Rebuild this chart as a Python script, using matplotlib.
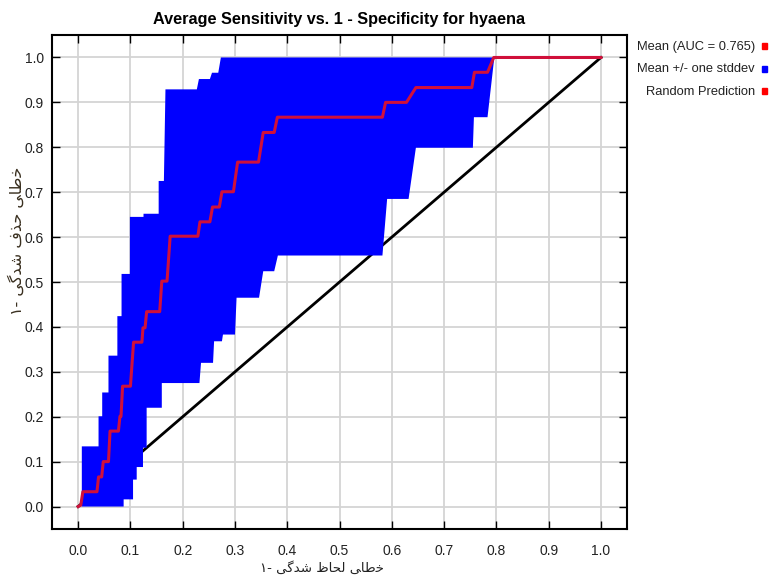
import matplotlib
matplotlib.use("Agg")
import matplotlib.pyplot as plt
from matplotlib.patches import Rectangle

# mean ROC curve (1 - specificity, sensitivity)
mean_fpr = [0.000, 0.005, 0.009, 0.036, 0.039, 0.045, 0.048, 0.058, 0.061, 0.077,
            0.080, 0.082, 0.085, 0.100, 0.106, 0.122, 0.124, 0.128, 0.131, 0.156,
            0.160, 0.170, 0.176, 0.229, 0.233, 0.252, 0.257, 0.270, 0.275, 0.297,
            0.305, 0.345, 0.354, 0.375, 0.381, 0.582, 0.588, 0.628, 0.646, 0.753,
            0.758, 0.783, 0.795, 1.000]
mean_tpr = [0.000, 0.003, 0.033, 0.033, 0.066, 0.066, 0.100, 0.100, 0.168, 0.168,
            0.201, 0.201, 0.268, 0.268, 0.366, 0.366, 0.398, 0.398, 0.434, 0.434,
            0.502, 0.502, 0.602, 0.602, 0.634, 0.634, 0.667, 0.667, 0.701, 0.701,
            0.767, 0.767, 0.833, 0.833, 0.867, 0.867, 0.900, 0.900, 0.933, 0.933,
            0.967, 0.967, 1.000, 1.000]

# mean + one stddev (upper edge of band)
up_fpr = [0.007, 0.007, 0.039, 0.039, 0.046, 0.046, 0.058, 0.058, 0.075, 0.075,
          0.083, 0.083, 0.099, 0.099, 0.125, 0.125, 0.154, 0.154, 0.164, 0.167,
          0.227, 0.231, 0.252, 0.256, 0.268, 0.273, 1.000]
up_tpr = [0.000, 0.134, 0.134, 0.201, 0.201, 0.254, 0.254, 0.336, 0.336, 0.424,
          0.424, 0.518, 0.518, 0.645, 0.645, 0.652, 0.652, 0.725, 0.725, 0.929,
          0.929, 0.952, 0.952, 0.966, 0.966, 1.000, 1.000]

# mean - one stddev (lower edge of band)
lo_fpr = [0.000, 0.087, 0.087, 0.105, 0.105, 0.112, 0.112, 0.124, 0.124, 0.131,
          0.131, 0.160, 0.160, 0.232, 0.235, 0.258, 0.260, 0.275, 0.277, 0.300,
          0.303, 0.346, 0.354, 0.375, 0.382, 0.582, 0.591, 0.632, 0.646, 0.755,
          0.757, 0.783, 0.796, 1.000]
lo_tpr = [0.000, 0.000, 0.016, 0.016, 0.060, 0.060, 0.088, 0.088, 0.131, 0.131,
          0.220, 0.220, 0.275, 0.275, 0.320, 0.320, 0.368, 0.368, 0.383, 0.383,
          0.465, 0.465, 0.524, 0.524, 0.559, 0.559, 0.685, 0.685, 0.799, 0.799,
          0.867, 0.867, 1.000, 1.000]

ticks = [0.0, 0.1, 0.2, 0.3, 0.4, 0.5, 0.6, 0.7, 0.8, 0.9, 1.0]
legend_labels = ["Mean (AUC = 0.765)", "Mean +/- one stddev", "Random Prediction"]
legend_colors = ["#ff0000", "#0000ff", "#ff0000"]

# persian labels written in visual order with presentation forms (no shaping engine here)
XLABEL = "\u06f1- \ufef0\ufb94\ufeaa\ufeb7 \ufec5\ufe8e\ufea4\ufedf \ufef0\ufe8e\ufec3\ufea7"
YLABEL = "\u06f1- \ufef0\ufb94\ufeaa\ufeb7 \ufed1\ufeac\ufea3 \ufef0\ufe8e\ufec3\ufea7"

plt.rcParams["font.family"] = ["Liberation Sans", "DejaVu Sans"]

fig = plt.figure(figsize=(7.74, 5.76), dpi=100)
ax = fig.add_axes([0.0672, 0.0816, 0.743, 0.8576])

ax.plot([0, 1], [0, 1], color="black", lw=2, zorder=2)
ax.fill(up_fpr + lo_fpr[::-1], up_tpr + lo_tpr[::-1], color="#0000ff", lw=0, zorder=3)
ax.plot(mean_fpr, mean_tpr, color="#d0103a", lw=2.2, zorder=4)

ax.set_xlim(-0.05, 1.05)
ax.set_ylim(-0.05, 1.05)
ax.set_xticks(ticks)
ax.set_yticks(ticks)
ax.set_xticklabels([f"{t:.1f}" for t in ticks])
ax.set_yticklabels([f"{t:.1f}" for t in ticks])
ax.grid(True, color="#d4d4d4", lw=1.3, zorder=0)
ax.set_axisbelow(True)
ax.tick_params(direction="in", length=6, width=1, top=True, right=True,
               labelsize=10, colors="black", labelcolor="#222222")
ax.tick_params(axis="x", pad=11)
ax.tick_params(axis="y", pad=6)
for sp in ax.spines.values():
    sp.set_linewidth(1.5)

ax.set_title("Average Sensitivity vs. 1 - Specificity for hyaena",
             fontsize=11.7, fontweight="bold", pad=8)

ax.set_xlabel(XLABEL, family=["DejaVu Sans"], fontsize=9.6, color="#222222")
ax.xaxis.set_label_coords(0.47, -0.065)
ax.set_ylabel(YLABEL, family=["DejaVu Sans"], fontsize=11.5, color="#3a3020")
ax.yaxis.set_label_coords(-0.048, 0.583)

for i, (lab, col) in enumerate(zip(legend_labels, legend_colors)):
    y = 1 - (47 + 22.5 * i) / 576
    fig.text(755 / 774, y, lab, ha="right", va="center", fontsize=9.3, color="#222222")
    fig.patches.append(Rectangle((762 / 774, y - 2 / 576), 5 / 774, 6 / 576,
                                 transform=fig.transFigure, color=col))

fig.savefig("out.png", dpi=100)
